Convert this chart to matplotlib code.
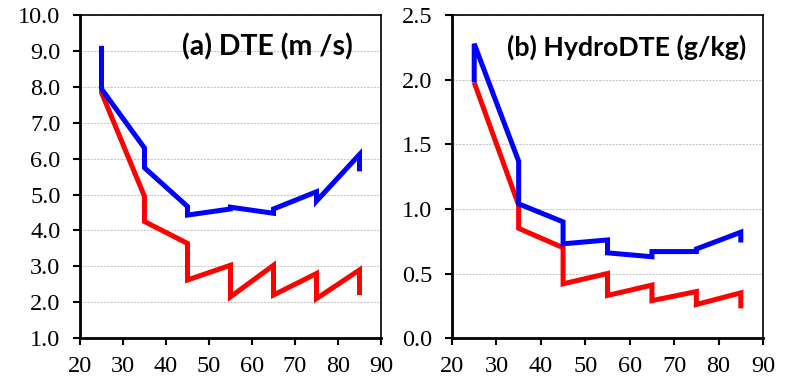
import matplotlib.pyplot as plt

# x positions (each decade has a jump, so every x appears twice)
x_pts = [25, 25, 35, 35, 45, 45, 55, 55, 65, 65, 75, 75, 85, 85]

# (a) DTE (m/s)
dte_blue = [9.15, 7.95, 6.3, 5.75, 4.67, 4.43, 4.6, 4.65, 4.48, 4.6, 5.08, 4.82, 6.12, 5.65]
dte_red = [7.9, 7.85, 4.95, 4.25, 3.64, 2.62, 3.03, 2.15, 3.03, 2.2, 2.8, 2.1, 2.9, 2.2]

# (b) HydroDTE (g/kg)
hydro_blue = [1.98, 2.28, 1.37, 1.04, 0.9, 0.73, 0.76, 0.66, 0.63, 0.67, 0.67, 0.69, 0.82, 0.74]
hydro_red = [1.98, 1.98, 1.03, 0.85, 0.7, 0.42, 0.5, 0.33, 0.41, 0.29, 0.36, 0.26, 0.35, 0.23]

xticks = [20, 30, 40, 50, 60, 70, 80, 90]

fig = plt.figure(figsize=(7.88, 3.85), dpi=100)
ax1 = fig.add_axes([0.1015, 0.122, 0.382, 0.838])
ax2 = fig.add_axes([0.5736, 0.122, 0.3947, 0.838])

panels = [
    (ax1, dte_blue, dte_red, (1.0, 10.0), [1 + i for i in range(10)], '(a) DTE (m /s)', 0.907, 20.5),
    (ax2, hydro_blue, hydro_red, (0.0, 2.5), [0.5 * i for i in range(6)], '(b) HydroDTE (g/kg)', 0.945, 19.3),
]

for ax, blue, red, ylim, yticks, title, tx, tsize in panels:
    ax.plot(x_pts, red, color='#ff0000', lw=3.6, solid_joinstyle='miter', solid_capstyle='butt', zorder=3)
    ax.plot(x_pts, blue, color='#0000ff', lw=3.6, solid_joinstyle='miter', solid_capstyle='butt', zorder=4)
    ax.set_xlim(20, 90)
    ax.set_ylim(*ylim)
    ax.set_xticks(xticks)
    ax.set_yticks(yticks)
    ax.set_xticklabels([str(v) for v in xticks], fontfamily='Liberation Serif', fontsize=17.5)
    ax.set_yticklabels(['{:.1f}'.format(v) for v in yticks], fontfamily='Liberation Serif', fontsize=17.5)
    ax.grid(axis='y', color='#c8c8c8', linestyle=(0, (2, 1)), linewidth=0.8)
    ax.set_axisbelow(True)
    ax.tick_params(direction='out', length=5, width=1.5)
    ax.tick_params(axis='y', pad=9)
    ax.tick_params(axis='x', pad=8)
    for side in ['left', 'bottom']:
        ax.spines[side].set_linewidth(2.0)
    for side in ['top', 'right']:
        ax.spines[side].set_linewidth(1.2)
    ax.text(tx, 0.902, title, transform=ax.transAxes, ha='right', va='center',
            fontfamily='Lato', fontweight='bold', fontsize=tsize)

plt.savefig('out.png', dpi=100)
